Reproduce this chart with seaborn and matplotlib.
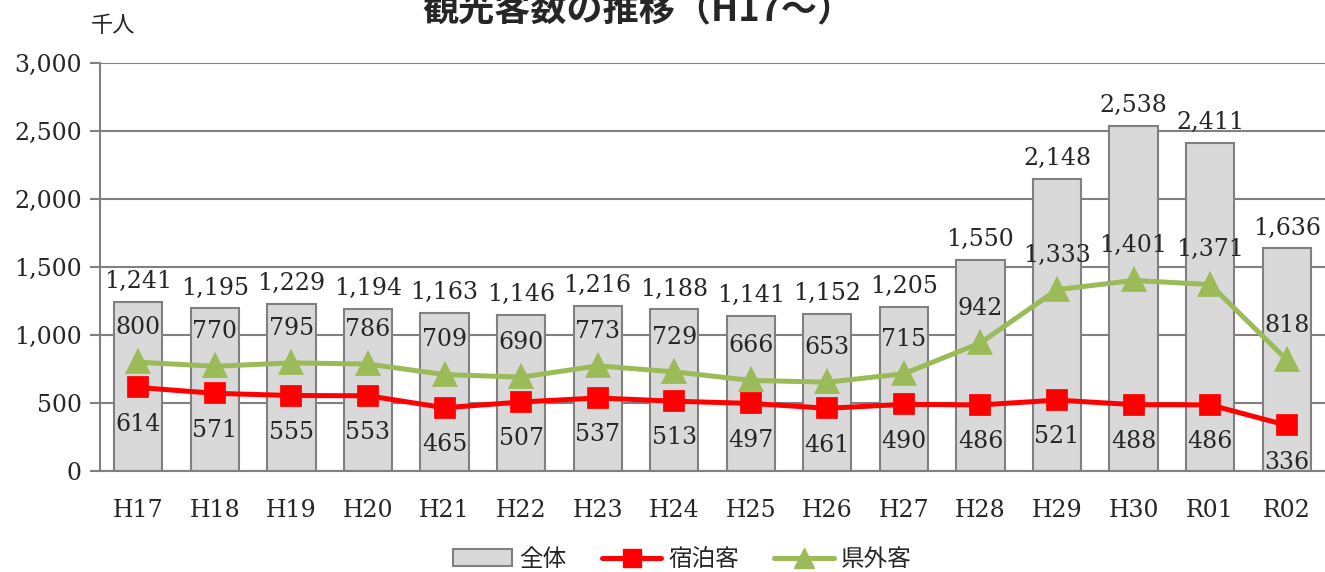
import numpy as np
import pandas as pd
import matplotlib
matplotlib.use("Agg")
import matplotlib.pyplot as plt
import seaborn as sns
from matplotlib.patches import Patch
from matplotlib.lines import Line2D

# --- datos ---
years = ['H17', 'H18', 'H19', 'H20', 'H21', 'H22', 'H23', 'H24',
         'H25', 'H26', 'H27', 'H28', 'H29', 'H30', 'R01', 'R02']
total = [1241, 1195, 1229, 1194, 1163, 1146, 1216, 1188,
         1141, 1152, 1205, 1550, 2148, 2538, 2411, 1636]
stay = [614, 571, 555, 553, 465, 507, 537, 513,
        497, 461, 490, 486, 521, 488, 486, 336]
outside = [800, 770, 795, 786, 709, 690, 773, 729,
           666, 653, 715, 942, 1333, 1401, 1371, 818]

df = pd.DataFrame({'year': years, 'total': total, 'stay': stay, 'outside': outside})

sns.set_theme(style="white")
plt.rcParams['font.family'] = ['DejaVu Serif', 'Noto Sans CJK JP', 'DejaVu Sans']
jp = ['Noto Sans CJK JP', 'DejaVu Sans']

gris = '#808080'
rojo = '#FF0000'
verde = '#9BBB59'

fig = plt.figure(figsize=(13.25, 5.72), dpi=100)
ax = fig.add_axes([0.0755, 0.1766, 0.9245, 0.7133])

sns.barplot(data=df, x='year', y='total', color='#D9D9D9', edgecolor=gris,
            linewidth=1.5, width=0.63, saturation=1, ax=ax, zorder=2)
sns.pointplot(data=df, x='year', y='outside', color=verde, markers='^',
              markersize=14, linewidth=3.6, ax=ax, zorder=4)
sns.pointplot(data=df, x='year', y='stay', color=rojo, markers='s',
              markersize=13, linewidth=3.6, ax=ax, zorder=5)

# etiquetas de valores
for i, row in df.iterrows():
    ax.text(i, row['total'] + 150, f"{row['total']:,}", ha='center', va='center',
            fontsize=17, zorder=6)
    ax.text(i, row['outside'] + 255, f"{row['outside']:,}", ha='center', va='center',
            fontsize=17, zorder=6)
    ax.text(i, row['stay'] - 270, f"{row['stay']:,}", ha='center', va='center',
            fontsize=17, zorder=6)

ax.set_xlim(-0.5, 15.5)
ax.set_ylim(0, 3000)
ax.set_yticks(np.arange(0, 3001, 500))
ax.set_yticklabels([f"{v:,}" for v in range(0, 3001, 500)], fontsize=17)
ax.set_xticks(range(len(years)))
ax.set_xticklabels(years, fontsize=17)
ax.set_xticks(np.arange(-0.5, 15.6, 1), minor=True)
ax.tick_params(axis='x', which='major', length=0, pad=20)
ax.tick_params(axis='x', which='minor', length=10, color=gris, width=1.5)
ax.tick_params(axis='y', length=7, color=gris, width=1.5, pad=6, left=True)
ax.set_xlabel('')
ax.set_ylabel('')
ax.grid(True, axis='y', color=gris, linewidth=1.5, zorder=0)
ax.set_axisbelow(True)
for s in ['top', 'right']:
    ax.spines[s].set_visible(False)
for s in ['left', 'bottom']:
    ax.spines[s].set_color(gris)
    ax.spines[s].set_linewidth(1.5)

# titulo cortado en la parte superior, como en el original
fig.text(0.481, 0.982, '観光客数の推移（H17〜）', ha='center', va='center',
         fontsize=26, fontweight='bold', family=jp)
fig.text(0.085, 0.955, '千人', ha='center', va='center', fontsize=16, family=jp)

handles = [
    Patch(facecolor='#D9D9D9', edgecolor=gris, linewidth=1.5),
    Line2D([0], [0], color=rojo, linewidth=3.6, marker='s', markersize=13),
    Line2D([0], [0], color=verde, linewidth=3.6, marker='^', markersize=14),
]
fig.legend(handles, ['全体', '宿泊客', '県外客'], loc='center', bbox_to_anchor=(0.515, 0.022),
           ncol=3, frameon=False, prop={'family': jp, 'size': 17},
           handlelength=2.5, columnspacing=1.5, handletextpad=0.3)

fig.savefig('out.png', dpi=100)
